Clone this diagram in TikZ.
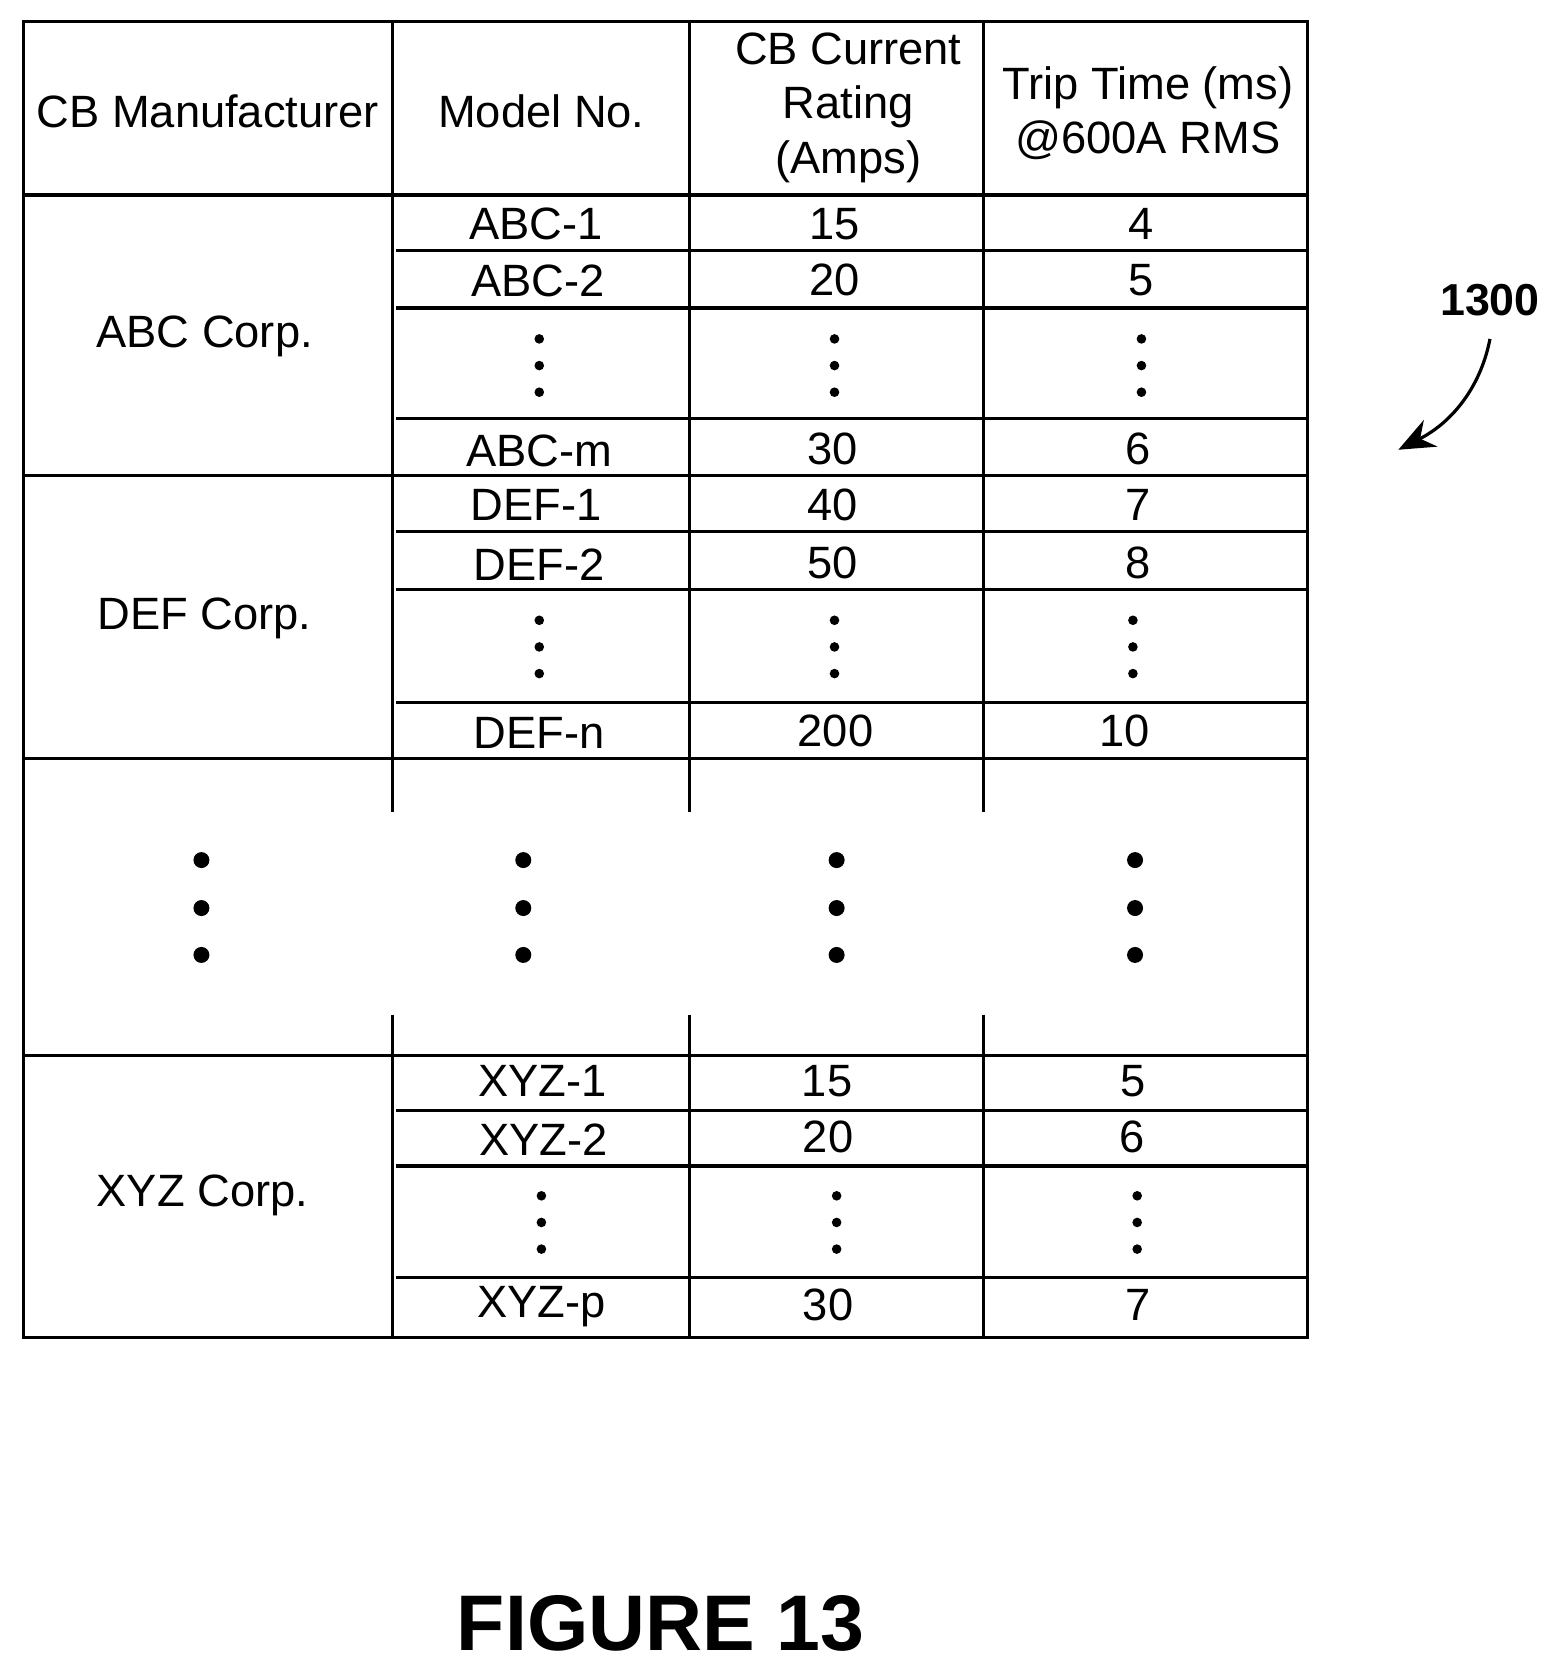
\documentclass[tikz,border=0pt]{standalone}
\usepackage{fontspec}
\setmainfont{Liberation Sans}
\usetikzlibrary{arrows.meta}
\begin{document}
\begin{tikzpicture}[x=1pt,y=-1pt,
  ln/.style={line width=3pt},
  cell/.style={font=\fontsize{42.5}{51}\selectfont,inner sep=0pt,align=center},
  sdot/.style={circle,fill=black,inner sep=0pt,minimum size=9pt},
  bdot/.style={circle,fill=black,inner sep=0pt,minimum size=15pt}]
\useasboundingbox (0,0) rectangle (1466,1566);
% outer frame
\draw[ln] (22,20) rectangle (1227,1255);
\draw[ln] (22,183) -- (1227,183);
\foreach \y in {446,712,990} \draw[ln] (22,\y) -- (1227,\y);
\foreach \y in {235,289,393,499,553,659,1042,1094,1199} \draw[ln] (372,\y) -- (1227,\y);
\foreach \x in {368,647,923} {
  \draw[ln] (\x,20) -- (\x,762);
  \draw[ln] (\x,952) -- (\x,1255);
}
% header
\node[cell] (h1) at (195,104) {CB Manufacturer};
\node[cell] (h2) at (508,104) {Model No.};
\node[cell] (h3) at (796,101) {CB Current\\Rating\\(Amps)};
\node[cell] (h4) at (1077,106) {Trip Time (ms)\\@600A RMS};
% groups
\node[cell] (g1) at (192,316) {ABC Corp.};
\node[cell] (g2) at (192,580) {DEF Corp.};
\node[cell] (g3) at (190,1122) {XYZ Corp.};
% rows
\node[cell] (a1) at (503,210) {ABC-1}; \node[cell] (a1c) at (783,210) {15}; \node[cell] (a1t) at (1071,210) {4};
\node[cell] (a2) at (505,264) {ABC-2}; \node[cell] (a2c) at (783,263) {20}; \node[cell] (a2t) at (1071,263) {5};
\node[cell] (am) at (506,423) {ABC-m}; \node[cell] (amc) at (781,421) {30}; \node[cell] (amt) at (1068,421) {6};
\node[cell] (d1) at (503,474) {DEF-1}; \node[cell] (d1c) at (781,474) {40}; \node[cell] (d1t) at (1068,474) {7};
\node[cell] (d2) at (506,530) {DEF-2}; \node[cell] (d2c) at (781,528) {50}; \node[cell] (d2t) at (1068,528) {8};
\node[cell] (dn) at (506,688) {DEF-n}; \node[cell] (dnc) at (784,686) {200}; \node[cell] (dnt) at (1055,686) {10};
\node[cell] (x1) at (509,1014) {XYZ-1}; \node[cell] (x1c) at (776,1014) {15}; \node[cell] (x1t) at (1063,1014) {5};
\node[cell] (x2) at (510,1069) {XYZ-2}; \node[cell] (x2c) at (777,1067) {20}; \node[cell] (x2t) at (1062,1067) {6};
\node[cell] (xp) at (508,1226) {XYZ-p}; \node[cell] (xpc) at (777,1224) {30}; \node[cell] (xpt) at (1068,1224) {7};
% small dots
\foreach \x/\ya in {506/318,783/318,1071/318,506/582,783/582,1063/582,508/1122,785/1122,1067/1122}
  \foreach \d in {0,25,50} \node[sdot] at (\x,\ya+\d) {};
% big dots
\foreach \x in {189,491,785,1065}
  \foreach \y in {807,852,896} \node[bdot] at (\x,\y) {};
% label
\node[font=\bfseries\fontsize{42}{48}\selectfont,inner sep=0pt] (lbl) at (1398,282) {1300};
\coordinate (tip) at (1312,422);
\draw[line width=3pt,-{Stealth[length=34pt,width=28pt]}] (1398,318) .. controls (1390,360) and (1365,395) .. (tip);
\node[font=\bfseries\fontsize{74}{80}\selectfont,inner sep=0pt] (fig) at (620,1523) {FIGURE 13};
\end{tikzpicture}
\end{document}
